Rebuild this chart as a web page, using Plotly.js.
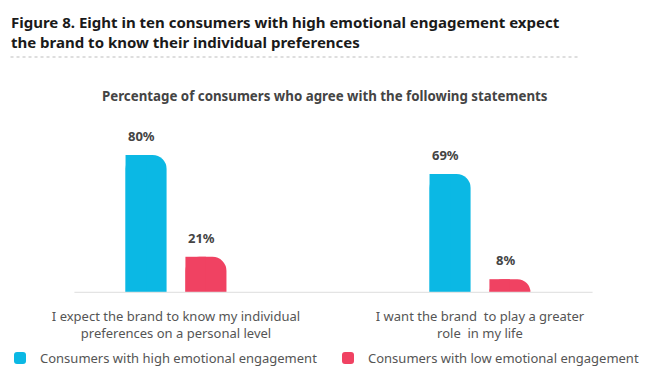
<!DOCTYPE html>
<html><head><meta charset="utf-8">
<script src="https://cdn.plot.ly/plotly-3.0.1.min.js"></script>
<style>html,body{margin:0;padding:0;background:#fff;}</style>
</head><body>
<div id="chart" style="width:646px;height:376px;"></div>
<script>
var categories = ["I expect the brand to know my individual<br>preferences on a personal level",
                  "I want the brand  to play a greater<br>role  in my life"];
var seriesNames = ["Consumers with high emotional engagement", "Consumers with low emotional engagement"];
var highValues = [80, 69];
var lowValues = [21, 8];
var valueLabels = [["80%", "69%"], ["21%", "8%"]];
var titleText = "Figure 8. Eight in ten consumers with high emotional engagement expect<br>the brand to know their individual preferences";
var subtitleText = "Percentage of consumers who agree with the following statements";

var colors = ["#0bb8e4", "#f04262"];
var barW = 0.135;
var offsets = [-0.166, 0.031];
var xIdx = [0, 1];
var allVals = [highValues, lowValues];
var legendIds = ["legend", "legend2"];

var PL = 23.5, PW = 609, PT = 110, PH = 183;
function px2paperX(px) { return (px - PL) / PW; }
function px2paperY(py) { return 1 + (PT - py) / PH; }

var traces = [];
var annotations = [];
allVals.forEach(function(vals, s) {
  traces.push({
    type: "bar", x: xIdx, y: vals, name: seriesNames[s],
    width: barW, offset: offsets[s], legend: legendIds[s],
    marker: {color: colors[s], cornerradius: 14, line: {width: 0}},
    hoverinfo: "skip", showlegend: true
  });
  traces.push({
    type: "bar", x: xIdx, y: vals, name: seriesNames[s],
    width: barW / 2, offset: offsets[s],
    marker: {color: colors[s], line: {width: 0}},
    hoverinfo: "skip", showlegend: false
  });
  vals.forEach(function(v, i) {
    annotations.push({
      x: xIdx[i] + offsets[s] + barW / 2 - 0.015, y: v, xref: "x", yref: "y",
      text: "<b>" + valueLabels[s][i] + "</b>", showarrow: false,
      yanchor: "bottom", yshift: 8,
      font: {family: "Noto Sans, sans-serif", size: 13, color: "#444"}
    });
  });
});

annotations.push({
  text: "<b>" + subtitleText + "</b>", showarrow: false,
  xref: "paper", yref: "paper", x: px2paperX(325), y: px2paperY(96),
  xanchor: "center", yanchor: "middle",
  font: {family: "Noto Sans, sans-serif", size: 13.3, color: "#444"}
});
annotations.push({
  text: "<b>" + titleText + "</b>", showarrow: false, align: "left",
  xref: "paper", yref: "paper", x: px2paperX(8), y: px2paperY(10),
  xanchor: "left", yanchor: "top",
  font: {family: "Noto Sans, sans-serif", size: 15, color: "#1a1a1a"}
});

var legendBase = {
  orientation: "h", xref: "container", yref: "container",
  y: 1 - 358 / 376, xanchor: "left", yanchor: "middle",
  font: {family: "Noto Sans, sans-serif", size: 13, color: "#555"},
  bgcolor: "rgba(0,0,0,0)", borderwidth: 0
};
var legend1 = Object.assign({}, legendBase, {x: -8 / 646});
var legend2 = Object.assign({}, legendBase, {x: 328 / 646});

var layout = {
  width: 646, height: 376,
  margin: {l: PL, r: 646 - PL - PW, t: PT, b: 376 - PT - PH},
  paper_bgcolor: "#fff", plot_bgcolor: "#fff",
  barmode: "overlay",
  xaxis: {
    range: [-0.5, 1.5], tickmode: "array", tickvals: xIdx, ticktext: categories,
    showgrid: false, zeroline: false, showline: false, ticks: "",
    ticklabelstandoff: 14,
    tickfont: {family: "Noto Sans, sans-serif", size: 13, color: "#555"},
    fixedrange: true
  },
  yaxis: {range: [0, 106.1], visible: false, fixedrange: true},
  showlegend: true,
  legend: legend1,
  legend2: legend2,
  annotations: annotations,
  shapes: [
    {type: "line", xref: "paper", yref: "y", x0: px2paperX(74), x1: px2paperX(593), y0: 0, y1: 0,
     line: {color: "#e4e4e4", width: 2.5}, layer: "above"},
    {type: "line", xref: "paper", yref: "paper", x0: px2paperX(10), x1: px2paperX(580),
     y0: px2paperY(57), y1: px2paperY(57),
     line: {color: "#bdbdbd", width: 1, dash: "dot"}}
  ]
};

Plotly.newPlot("chart", traces, layout, {displayModeBar: false, staticPlot: true});
</script>
</body></html>
